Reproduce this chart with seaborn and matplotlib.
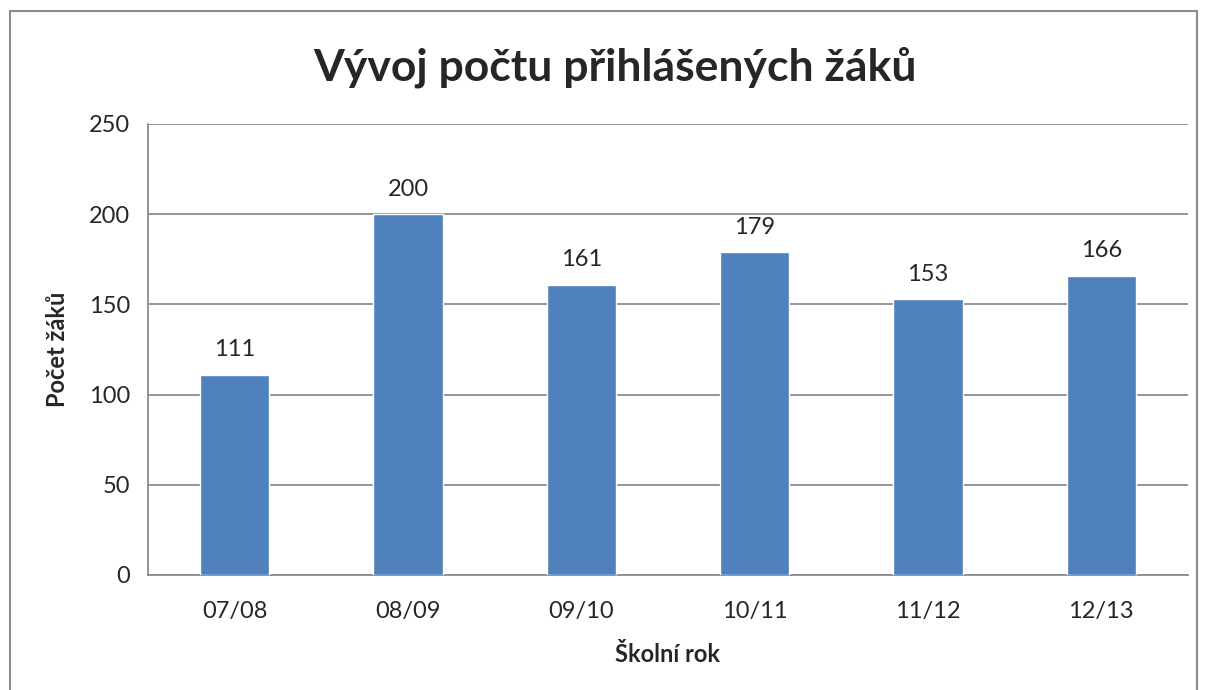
import matplotlib
matplotlib.use("Agg")
import matplotlib.pyplot as plt
import matplotlib.patches as mpatches
import seaborn as sns
import pandas as pd

# data
roky = ["07/08", "08/09", "09/10", "10/11", "11/12", "12/13"]
pocty = [111, 200, 161, 179, 153, 166]

df = pd.DataFrame({"rok": roky, "pocet": pocty})

sns.set_style("white")
plt.rcParams["font.family"] = ["Lato", "DejaVu Sans"]

fig = plt.figure(figsize=(12.06, 6.90), dpi=100)
ax = fig.add_axes([0.1227, 0.1667, 0.8623, 0.6536])

grid_col = "#8c8c8c"

sns.barplot(data=df, x="rok", y="pocet", color="#4F81BD", width=0.4,
            saturation=1, ax=ax, zorder=3)

ax.set_ylim(0, 250)
ax.set_yticks(range(0, 251, 50))
ax.set_xlim(-0.5, len(roky) - 0.5)
ax.yaxis.grid(True, color=grid_col, linewidth=1.3, zorder=0)
ax.set_axisbelow(True)

for s in ["top", "right"]:
    ax.spines[s].set_visible(False)
for s in ["left", "bottom"]:
    ax.spines[s].set_color(grid_col)
    ax.spines[s].set_linewidth(1.3)

ax.tick_params(axis="y", length=5, color=grid_col, width=1.3, labelsize=17, pad=8)
ax.tick_params(axis="x", length=0, labelsize=17, pad=19)

for i, v in enumerate(pocty):
    ax.text(i, v + 8, str(v), ha="center", va="bottom", fontsize=17)

ax.set_xlabel("Školní rok", fontsize=17, fontweight="bold", labelpad=15)
ax.set_ylabel("Počet žáků", fontsize=17, fontweight="bold", labelpad=14)

fig.text(0.51, 0.903, "Vývoj počtu přihlášených žáků", ha="center", va="center",
         fontsize=32, fontweight="bold")

# outer chart border
fig.patches.append(mpatches.Rectangle((10 / 1206, -0.05), 1187 / 1206, 1.05 - 11 / 690,
                                      transform=fig.transFigure, fill=False,
                                      edgecolor="#8c8c8c", linewidth=1.5))

fig.savefig("out.png", dpi=100)
